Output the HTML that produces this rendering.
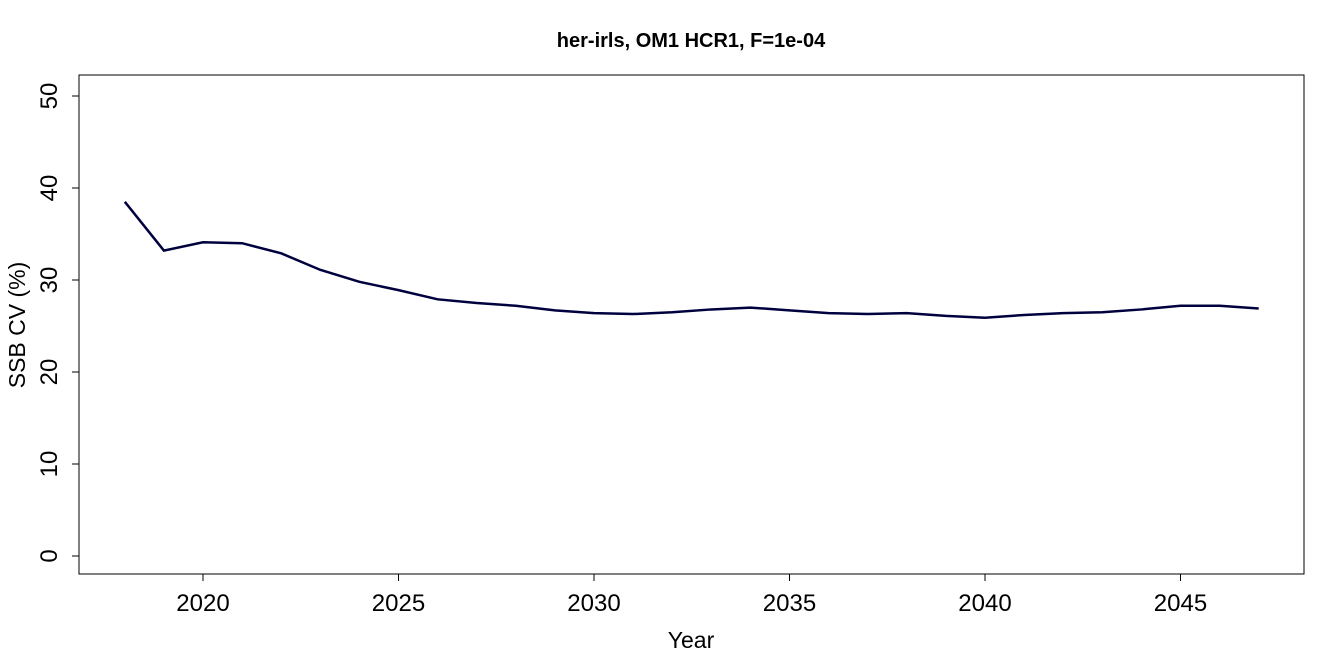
<!DOCTYPE html>
<html><head><meta charset="utf-8"><style>
html,body{margin:0;padding:0;background:#fff;}
svg{display:block;font-family:"Liberation Sans",Arial,sans-serif;}
</style></head><body>
<svg id="chart" width="1344" height="672" viewBox="0 0 1344 672">
<text x="691" y="47" text-anchor="middle" font-size="20" font-weight="bold">her-irls, OM1 HCR1, F=1e-04</text>
<rect x="79" y="75" width="1225" height="499" fill="none" stroke="#000" stroke-width="1"/>
<g id="xaxis"></g>
<g id="yaxis"></g>
<text x="691" y="648" text-anchor="middle" font-size="23">Year</text>
<text transform="translate(25,325) rotate(-90)" text-anchor="middle" font-size="23">SSB CV (%)</text>
<path id="line" fill="none" stroke="#00003f" stroke-width="2.5"/>
</svg>
<script>
const years=[2018,2019,2020,2021,2022,2023,2024,2025,2026,2027,2028,2029,2030,2031,2032,2033,2034,2035,2036,2037,2038,2039,2040,2041,2042,2043,2044,2045,2046,2047];
const cv=[38.5,33.2,34.1,34.0,32.9,31.1,29.8,28.9,27.9,27.5,27.2,26.7,26.4,26.3,26.5,26.8,27.0,26.7,26.4,26.3,26.4,26.1,25.9,26.2,26.4,26.5,26.8,27.2,27.2,26.9];
const xTicks=[2020,2025,2030,2035,2040,2045];
const yTicks=[0,10,20,30,40,50];
const NS="http://www.w3.org/2000/svg";
function xs(v){return 203+(v-2020)*39.1;}
function ys(v){return 556-v*9.2;}
const xa=document.getElementById('xaxis'),ya=document.getElementById('yaxis');
function mk(tag,attrs,parent){const e=document.createElementNS(NS,tag);for(const k in attrs)e.setAttribute(k,attrs[k]);parent.appendChild(e);return e;}
mk('line',{x1:xs(2020),x2:xs(2045),y1:574,y2:574,stroke:'#000'},xa);
xTicks.forEach(t=>{
 const l=mk('line',{x1:xs(t),x2:xs(t),y1:574,y2:581,stroke:'#000'},xa);
 
 
 const tx=mk('text',{x:xs(t),y:611,'text-anchor':'middle','font-size':'24'},xa);tx.textContent=t;
 
 
});
mk('line',{x1:79,x2:79,y1:ys(0),y2:ys(50),stroke:'#000'},ya);
yTicks.forEach(t=>{
 const l=mk('line',{x1:72,x2:79,y1:ys(t),y2:ys(t),stroke:'#000'},ya);
 
 
 const tx=mk('text',{transform:`translate(57,${ys(t)}) rotate(-90)`,'text-anchor':'middle','font-size':'24'},ya);tx.textContent=t;
 
 
});
document.getElementById('line').setAttribute('d',years.map((y,i)=>(i?'L':'M')+xs(y)+','+ys(cv[i])).join(''));
</script>
</body></html>
